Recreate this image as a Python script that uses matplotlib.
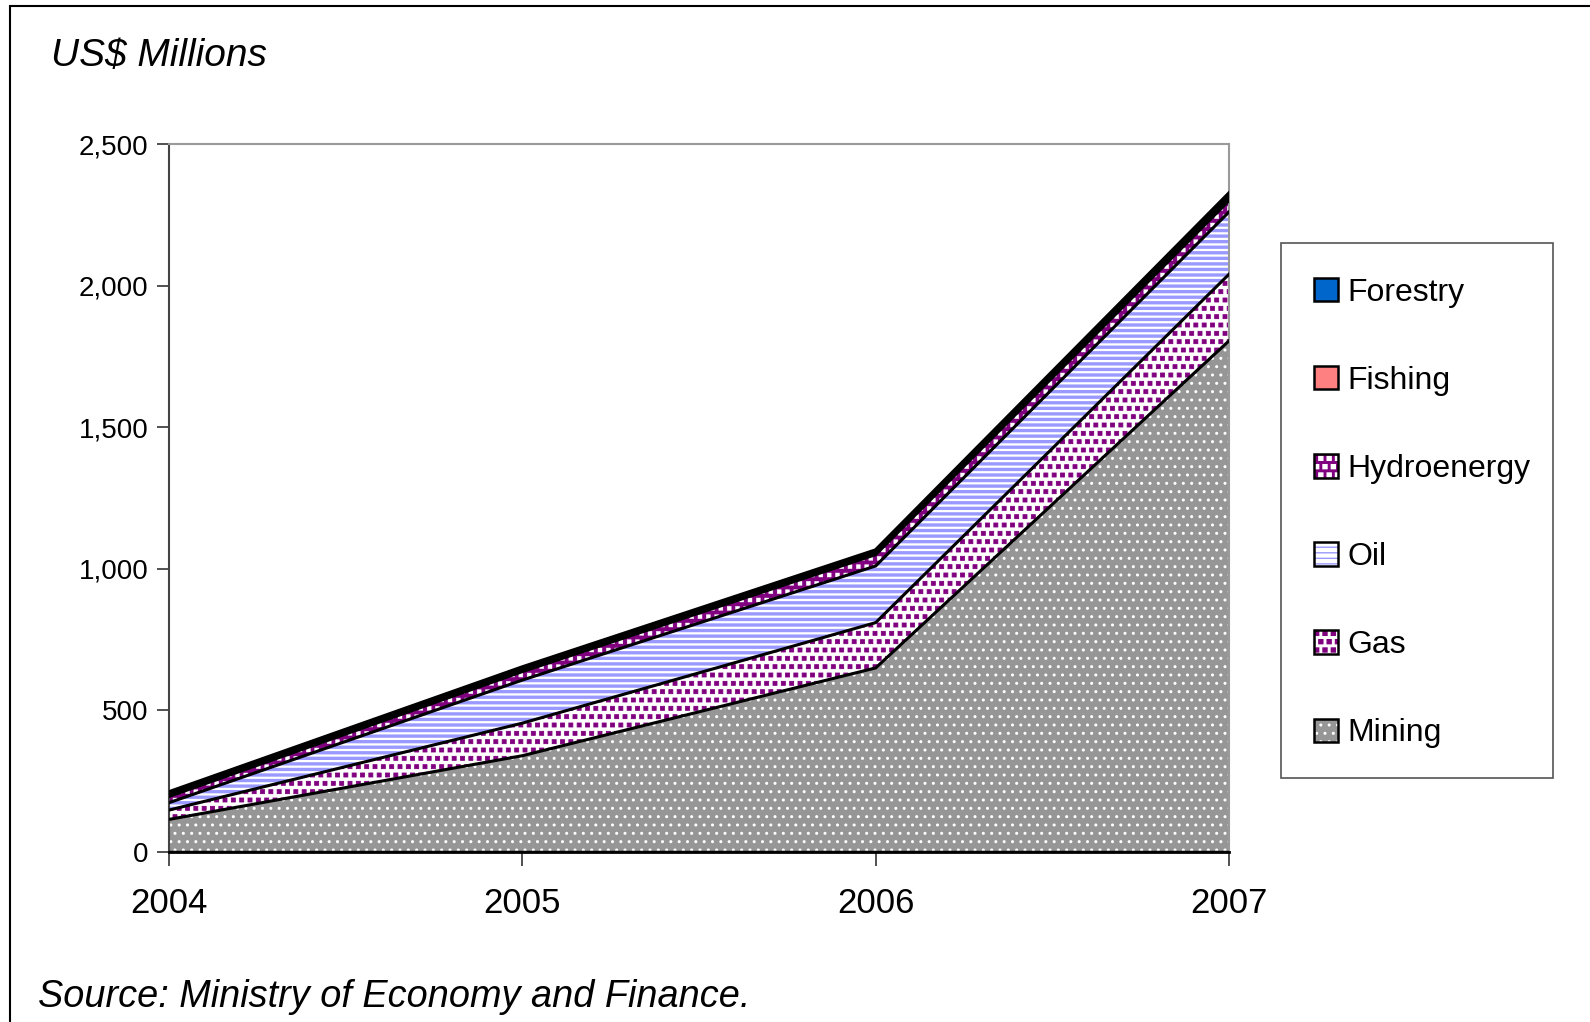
import matplotlib
matplotlib.use("Agg")
import matplotlib.pyplot as plt
import matplotlib.patches as mpatches
from matplotlib import font_manager
from matplotlib import hatch as mhatch
from matplotlib.path import Path
from matplotlib.legend_handler import HandlerTuple
from matplotlib.ticker import FuncFormatter
import numpy as np

# Values in US$ millions, by year
years = [2004, 2005, 2006, 2007]
mining = [115, 340, 650, 1805]
gas = [33, 115, 160, 235]
oil = [26, 152, 200, 220]
hydroenergy = [22, 30, 40, 40]
fishing = [7, 7, 8, 10]
forestry = [8, 8, 7, 15]

series_names = ["Mining", "Gas", "Oil", "Hydroenergy", "Fishing", "Forestry"]
series_values = [mining, gas, oil, hydroenergy, fishing, forestry]
face_colors = ["#969696", "#ffffff", "#ffffff", "#800080", "#ff8080", "#0066cc"]
hatch_colors = ["#ffffff", "#800080", "#9999ff", "#ffffff", "#ff8080", "#0066cc"]
hatches = ["..", "**", "---", "**", None, None]
hatch_widths = [1.0, 0.6, 2.4, 0.3, 1.0, 1.0]


# '*' hatch replaced by a staggered grid of small filled squares
class SquareDots(mhatch.Shapes):
    size = 0.24
    filled = True

    def __init__(self, hatch, density):
        self.num_rows = hatch.count("*") * density
        self.shape_vertices = np.array([[-1, -1], [1, -1], [1, 1], [-1, 1], [-1, -1]], float)
        self.shape_codes = np.array([Path.MOVETO, Path.LINETO, Path.LINETO,
                                     Path.LINETO, Path.CLOSEPOLY], dtype=Path.code_type)
        super().__init__(hatch, density)


mhatch._hatch_types = [SquareDots if t is mhatch.Stars else t for t in mhatch._hatch_types]


def pick_font(name, fallback):
    try:
        font_manager.findfont(name, fallback_to_default=False)
        return name
    except Exception:
        return fallback


narrow = pick_font("Liberation Sans Narrow", "Liberation Sans")
plt.rcParams["font.family"] = "Liberation Sans"

fig = plt.figure(figsize=(15.9, 10.22), dpi=100)
ax = fig.add_axes([169 / 1590, 1 - 852 / 1022, (1229 - 169) / 1590, (852 - 144) / 1022])

x = np.array(years)
bottom = np.zeros(len(years))
tops = []
for name, vals, fc, hc, h, hw in zip(series_names, series_values, face_colors,
                                      hatch_colors, hatches, hatch_widths):
    top = bottom + np.array(vals)
    with plt.rc_context({"hatch.linewidth": hw}):
        coll = ax.fill_between(x, bottom, top, facecolor=fc, edgecolor=hc,
                               hatch=h, linewidth=0, zorder=2)
    try:
        coll.set_hatch_linewidth(hw)
    except AttributeError:
        pass
    tops.append(top)
    bottom = top

# black outlines on every layer boundary
for i, top in enumerate(tops):
    lw = 3.0 if i >= 4 else 2.2
    ax.plot(x, top, color="black", linewidth=lw, zorder=3, solid_joinstyle="miter")
ax.plot(x, np.zeros(len(years)), color="black", linewidth=2.5, zorder=3)

ax.set_xlim(2004, 2007)
ax.set_ylim(0, 2500)
ax.set_xticks(years)
ax.set_yticks(np.arange(0, 2501, 500))
ax.yaxis.set_major_formatter(FuncFormatter(lambda v, p: f"{int(v):,}"))

for lab in ax.get_xticklabels():
    lab.set_fontfamily(narrow)
    lab.set_fontsize(25)
for lab in ax.get_yticklabels():
    lab.set_fontfamily(narrow)
    lab.set_fontsize(20)

ax.tick_params(axis="x", direction="out", length=10, width=1.2, pad=15, color="#333333")
ax.tick_params(axis="y", direction="out", length=9, width=1.2, pad=6, color="#333333")

ax.spines["left"].set_color("#444444")
ax.spines["left"].set_linewidth(1.5)
ax.spines["bottom"].set_color("black")
ax.spines["bottom"].set_linewidth(2)
for s in ("top", "right"):
    ax.spines[s].set_color("#9a9a9a")
    ax.spines[s].set_linewidth(1.5)

# legend: hatched swatch with a black frame on top
handles = []
for name, fc, hc, h, hw in zip(series_names, face_colors, hatch_colors, hatches, hatch_widths):
    sw = mpatches.Patch(facecolor=fc, edgecolor=hc, hatch=h, linewidth=0)
    try:
        sw.set_hatch_linewidth(min(hw, 2.0))
    except AttributeError:
        pass
    frame = mpatches.Patch(facecolor="none", edgecolor="black", linewidth=1.8)
    handles.append((sw, frame))

leg = fig.legend(handles[::-1], series_names[::-1], loc="upper left",
                 bbox_to_anchor=(1277 / 1590, 1 - 241 / 1022),
                 handler_map={tuple: HandlerTuple(ndivide=1)},
                 fontsize=23, frameon=False,
                 borderpad=1.15, labelspacing=1.82, handlelength=0.75, handleheight=0.75,
                 handletextpad=0.3, borderaxespad=0)

# legend box
fig.patches.append(mpatches.Rectangle((1281 / 1590, 1 - 778 / 1022), 272 / 1590, 535 / 1022,
                                      transform=fig.transFigure, fill=False,
                                      edgecolor="#555555", linewidth=1.2))

fig.text(51 / 1590, 1 - 56 / 1022, "US$ Millions", fontsize=28, style="italic",
         va="center", ha="left")
fig.text(38 / 1590, 1 - 997 / 1022, "Source: Ministry of Economy and Finance.",
         fontsize=27.3, style="italic", family=narrow, va="center", ha="left")

# outer frame around the whole chart
fig.patches.append(mpatches.Rectangle((10 / 1590, -0.05), 1.2, 1 - 6 / 1022 + 0.05,
                                      transform=fig.transFigure, fill=False,
                                      edgecolor="black", linewidth=1.5))

fig.savefig("out.png", dpi=100)
